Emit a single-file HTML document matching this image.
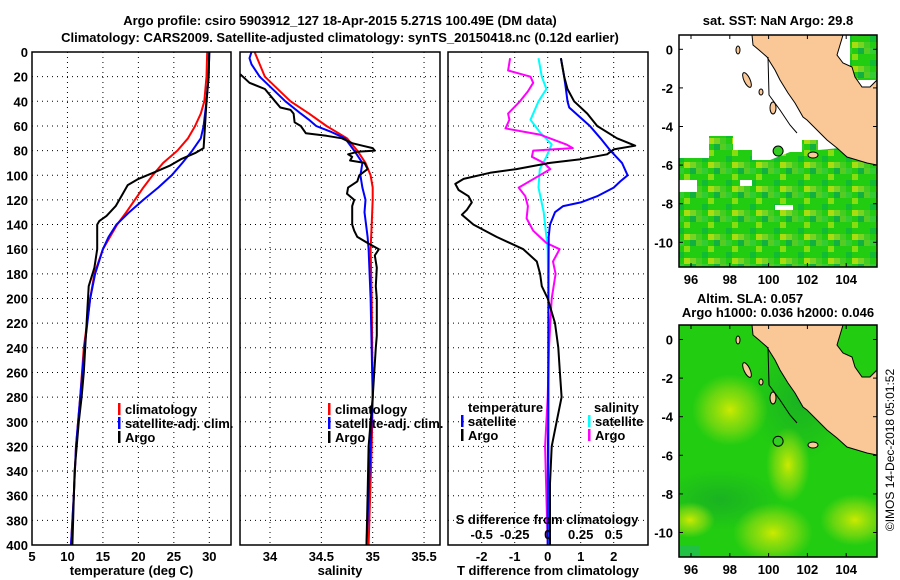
<!DOCTYPE html>
<html><head><meta charset="utf-8"><style>
html,body{margin:0;padding:0;background:#fff;}
svg{display:block;font-family:"Liberation Sans",Arial,sans-serif;font-weight:bold;}
</style></head><body>
<svg id="c" width="900" height="580" viewBox="0 0 900 580" xmlns="http://www.w3.org/2000/svg">
<defs>
<pattern id="sst" width="24" height="24" patternUnits="userSpaceOnUse">
<rect width="24" height="24" fill="#22cc11"/>
<rect x="0" y="0" width="6" height="6" fill="#55cc22"/><rect x="12" y="6" width="6" height="6" fill="#88dd11"/>
<rect x="6" y="12" width="6" height="6" fill="#11bb33"/><rect x="18" y="18" width="6" height="6" fill="#77d522"/>
<rect x="18" y="0" width="6" height="6" fill="#11b040"/><rect x="0" y="18" width="6" height="6" fill="#44cc22"/>
<rect x="12" y="18" width="6" height="6" fill="#aadd11"/><rect x="6" y="0" width="6" height="6" fill="#33cc33"/>
</pattern>
<radialGradient id="yb"><stop offset="0" stop-color="#ccea00"/><stop offset="0.6" stop-color="#99dd10" stop-opacity="0.6"/><stop offset="1" stop-color="#88dd10" stop-opacity="0"/></radialGradient>
<radialGradient id="db"><stop offset="0" stop-color="#119933" stop-opacity="0.5"/><stop offset="1" stop-color="#119933" stop-opacity="0"/></radialGradient>
<clipPath id="m1c"><rect x="679" y="35" width="198" height="232"/></clipPath>
<clipPath id="m2c"><rect x="679" y="325" width="198" height="232"/></clipPath>
</defs>
<g id="root"></g>
</svg>
<script>
// ---- data: depth (m) and values ----
const tClimDepth=[0,20,40,50,60,70,80,90,100,110,120,130,140,160,180,200,240,280,320,360,400];
const tClimVal=[29.7,29.6,29.3,28.8,28.0,27.0,25.5,23.5,22.0,20.7,19.5,18.3,17.0,15.0,13.8,13.2,12.3,11.8,11.2,10.9,10.5];
const tSatDepth=[0,20,40,60,70,80,90,100,110,120,130,140,150,160,180,200,240,280,320,360,400];
const tSatVal=[30.0,29.9,29.6,29.2,28.8,27.6,26.2,24.7,22.8,20.7,18.7,16.9,15.8,15.0,13.9,13.2,12.4,11.8,11.2,10.9,10.5];
const tArgoDepth=[0,20,40,60,78,82,87,92,97,103,108,115,125,133,137,140,160,175,190,220,260,280,300,340,400];
const tArgoVal=[30.0,29.9,29.6,29.4,29.2,28.0,26.0,24.5,22.5,20.0,18.5,17.8,16.8,15.5,14.5,14.2,14.2,13.8,13.0,12.7,12.3,12.0,11.6,11.0,10.7];
const sClimDepth=[0,10,20,40,50,60,70,80,90,100,110,120,140,160,200,280,320,400];
const sClimVal=[33.85,33.9,33.95,34.2,34.38,34.55,34.75,34.85,34.93,34.98,35.0,35.0,34.99,34.98,34.99,35.0,34.99,34.96];
const sSatDepth=[0,5,10,20,40,50,55,60,65,70,80,90,100,110,120,130,150,160,200,280,400];
const sSatVal=[33.82,33.8,33.82,33.9,34.15,34.3,34.38,34.45,34.6,34.73,34.82,34.9,34.88,34.9,34.93,34.92,34.95,34.96,34.98,35.0,34.94];
const sArgoDepth=[18,25,30,40,45,47,50,57,60,66,68,70,74,76,78,80,81,83,85,88,90,95,100,105,110,115,120,125,130,140,145,150,155,160,165,175,190,200,230,240,280,320,360,400];
const sArgoVal=[33.71,33.8,33.95,34.05,34.1,34.2,34.23,34.24,34.3,34.35,34.55,34.7,34.8,34.9,35.0,35.02,34.85,34.76,34.8,34.78,34.92,34.95,34.87,34.85,34.76,34.75,34.82,34.8,34.8,34.8,34.82,34.85,34.95,35.06,35.02,35.04,35.03,35.04,35.04,35.03,35.0,34.96,34.95,34.94];
const dTSatDepth=[5,20,30,40,45,60,70,80,90,100,105,110,117,122,125,130,140,150,200,400];
const dTSatVal=[0.4,0.5,0.55,0.6,0.65,1.28,1.6,1.9,2.25,2.42,2.2,2.0,1.5,1.0,0.47,0.22,0.07,0.03,0.02,0.0];
const dTArgoDepth=[5,20,30,40,50,60,70,76,79,83,87,90,95,98,103,107,112,117,122,128,132,140,150,160,170,180,190,200,220,240,260,280,300,320,350,400];
const dTArgoVal=[0.4,0.5,0.6,0.8,1.2,1.5,2.1,2.65,2.0,1.8,1.0,0.07,-0.95,-1.75,-2.55,-2.8,-2.7,-2.4,-2.3,-2.45,-2.6,-2.25,-1.55,-0.74,-0.33,-0.23,-0.18,0,0.22,0.32,0.37,0.42,0.27,0.12,0.07,0.07];
const dSSatDepth=[5,20,30,40,55,65,75,85,95,110,130,150,160,200,280,400];
const dSSatVal=[-0.07,-0.045,-0.01,-0.07,-0.13,-0.06,0.03,-0.01,-0.06,-0.07,-0.03,-0.01,0.0,0.005,0.01,0.01];
const dSArgoDepth=[5,15,20,25,32,40,50,55,62,67,75,78,80,85,90,95,100,110,117,125,135,145,150,155,160,170,180,200,220,240,280,300,320,360,400];
const dSArgoVal=[-0.285,-0.3,-0.13,-0.11,-0.15,-0.21,-0.3,-0.29,-0.32,-0.06,0.14,0.19,-0.11,-0.12,-0.03,0.02,-0.06,-0.22,-0.17,-0.15,-0.16,-0.11,-0.06,-0.01,0.09,0.04,0.06,0.03,0.02,0.01,0.0,-0.01,-0.02,-0.01,0.0];
const depthTicks=[0,20,40,60,80,100,120,140,160,180,200,220,240,260,280,300,320,340,360,380,400];
const tTicks=[5,10,15,20,25,30];
const sTicks=[34,34.5,35,35.5];
const dTTicks=[-2,-1,0,1,2];
const dSTicks=[-0.5,-0.25,0,0.25,0.5];
const dSTickLabels=["-0.5","-0.25","0","0.25","0.5"];
const lonTicks=[96,98,100,102,104];
const latTicks=[0,-2,-4,-6,-8,-10];
const argoLon=100.49, argoLat=-5.271;

const NS='http://www.w3.org/2000/svg';
const root=document.getElementById('root');
function el(tag,attrs,parent,text){const e=document.createElementNS(NS,tag);for(const k in attrs)e.setAttribute(k,attrs[k]);if(text!==undefined)e.textContent=text;(parent||root).appendChild(e);return e;}

const Y0=52,Y1=545;
const yD=d=>Y0+(Y1-Y0)*d/400;
const xT=v=>32+(v-5)*(209.3-32)/25;
const xS=v=>270+(v-34)*102.7;
const xDT=v=>547.7+v*33;
const xDS=v=>547.7+v*132;

let t=el('text',{x:340,y:25,'text-anchor':'middle','font-size':13});t.textContent='Argo profile: csiro 5903912_127 18-Apr-2015 5.271S 100.49E (DM data)';


t=el('text',{x:340,y:42,'text-anchor':'middle','font-size':13});t.textContent='Climatology: CARS2009. Satellite-adjusted climatology: synTS_20150418.nc (0.12d earlier)';



function panel(name,x0,x1,xs,xticks,xlabels,xtitle,showY){
  const g=el('g',{});
  
  
  for(const d of depthTicks){
    el('line',{x1:x0,x2:x1,y1:yD(d),y2:yD(d),stroke:'#000','stroke-width':1,'stroke-dasharray':'1,4'},g);
  }
  xticks.forEach((v,i)=>{
    const x=xs(v);
    el('line',{x1:x,x2:x,y1:Y0,y2:Y1,stroke:'#000','stroke-width':1,'stroke-dasharray':'1,4'},g);
    if(xlabels){const l=el('text',{x:x,y:561,'text-anchor':'middle','font-size':13},g,xlabels[i]);
    
    }
  });
  if(showY){for(const d of depthTicks){const l=el('text',{x:28,y:yD(d)+5,'text-anchor':'end','font-size':13},g,String(d));
    
    }}
  const tt=el('text',{x:(x0+x1)/2,y:575,'text-anchor':'middle','font-size':13},g,xtitle);
  
  
  return g;
}
function frame(x0,x1){const r=el('rect',{x:x0,y:Y0,width:x1-x0,height:Y1-Y0,fill:'none',stroke:'#000','stroke-width':1.5});
  
  }
function line(depths,vals,xs,color,name,g){
  const pts=depths.map((d,i)=>xs(vals[i]).toFixed(1)+','+yD(d).toFixed(1)).join(' ');
  const p=el('polyline',{points:pts,fill:'none',stroke:color,'stroke-width':2,'stroke-linejoin':'round'},g);
  
  
}
function legend(x,y,color,label,g){
  el('rect',{x:x,y:y-6,width:2.5,height:12,fill:color},g);
  const l=el('text',{x:x+7,y:y+5,'font-size':13},g,label);
  
  
}

let g=panel('temperature-panel',32,231,xT,tTicks,tTicks.map(String),'temperature (deg C)',true);
line(tClimDepth,tClimVal,xT,'#ff0000','climatology-temperature-line',g);
line(tSatDepth,tSatVal,xT,'#0000ff','satellite-temperature-line',g);
line(tArgoDepth,tArgoVal,xT,'#000000','argo-temperature-line',g);
legend(118,409,'#ff0000','climatology',g);legend(118,423,'#0000ff','satellite-adj. clim.',g);legend(118,437,'#000','Argo',g);
frame(32,231);

g=panel('salinity-panel',240,440,xS,sTicks,sTicks.map(String),'salinity',false);
line(sClimDepth,sClimVal,xS,'#ff0000','climatology-salinity-line',g);
line(sSatDepth,sSatVal,xS,'#0000ff','satellite-salinity-line',g);
line(sArgoDepth,sArgoVal,xS,'#000000','argo-salinity-line',g);
legend(328,409,'#ff0000','climatology',g);legend(328,423,'#0000ff','satellite-adj. clim.',g);legend(328,437,'#000','Argo',g);
frame(240,440);

g=panel('difference-panel',448,648,xDT,dTTicks,dTTicks.map(String),'T difference from climatology',false);
line(dSSatDepth,dSSatVal,xDS,'#00ffff','satellite-salinity-diff-line',g);
line(dSArgoDepth,dSArgoVal,xDS,'#ff00ff','argo-salinity-diff-line',g);
line(dTSatDepth,dTSatVal,xDT,'#0000ff','satellite-temperature-diff-line',g);
line(dTArgoDepth,dTArgoVal,xDT,'#000000','argo-temperature-diff-line',g);
t=el('text',{x:468,y:412,'font-size':13},g,'temperature');


t=el('text',{x:594,y:412,'font-size':13},g,'salinity');


legend(461,421,'#0000ff','satellite',g);legend(461,435,'#000','Argo',g);
legend(588,421,'#00ffff','satellite',g);legend(588,435,'#ff00ff','Argo',g);
t=el('text',{x:547,y:524,'text-anchor':'middle','font-size':13},g,'S difference from climatology');


dSTicks.forEach((v,i)=>{const l=el('text',{x:xDS(v),y:539,'text-anchor':'middle','font-size':13},g,dSTickLabels[i]);
  
  });
frame(448,648);

const MX0=679,MX1=877;
const xLon=v=>691+(v-96)*19.4;
function mapAxes(top,bottom,lat0,g,labelY){
  latTicks.forEach(la=>{const y=lat0+(-la)*19.3;
    el('line',{x1:MX0,x2:MX0+4,y1:y,y2:y,stroke:'#000'},g);el('line',{x1:MX1-4,x2:MX1,y1:y,y2:y,stroke:'#000'},g);
    const l=el('text',{x:673,y:y+5,'text-anchor':'end','font-size':13},g,String(la));
    
    });
  lonTicks.forEach(lo=>{const x=xLon(lo);
    el('line',{x1:x,x2:x,y1:top,y2:top+4,stroke:'#000'},g);el('line',{x1:x,x2:x,y1:bottom-4,y2:bottom,stroke:'#000'},g);
    const l=el('text',{x:x,y:labelY,'text-anchor':'middle','font-size':13},g,String(lo));
    
    });
  el('rect',{x:MX0,y:top,width:MX1-MX0,height:bottom-top,fill:'none',stroke:'#000','stroke-width':1.5},g);
}
const landRel=[[752,35],[753,45],[759,50],[767,57],[770,62],[775,70],[780,80],[788,93],[795,103],[803,117],[807,120],[817,130],[827,140],[837,148],[847,157],[857,160],[867,163],[877,165],[877,80],[870,87],[862,87],[855,77],[852,67],[843,63],[837,55],[840,45],[843,35]];
function landPts(dy){return landRel.map(p=>p[0]+','+(p[1]+dy)).join(' ');}
function coastExtras(dy,g){
  el('polyline',{points:`768,${57+dy} 769,${95+dy} 780,${110+dy} 790,${125+dy} 797,${133+dy}`,fill:'none',stroke:'#000','stroke-width':1},g);
  el('ellipse',{cx:747,cy:80+dy,rx:3,ry:8,fill:'#f9c896',stroke:'#000',transform:`rotate(-25 747 ${80+dy})`},g);
  el('ellipse',{cx:773,cy:108+dy,rx:3,ry:6,fill:'#f9c896',stroke:'#000'},g);
  el('ellipse',{cx:761,cy:92+dy,rx:2,ry:3,fill:'#f9c896',stroke:'#000'},g);
  el('ellipse',{cx:813,cy:155+dy,rx:5,ry:3,fill:'#f9c896',stroke:'#000'},g);
  el('ellipse',{cx:738,cy:50+dy,rx:2,ry:4,fill:'#f9c896',stroke:'#000'},g);
}

let m=el('g',{'clip-path':'url(#m1c)'});


el('rect',{x:679,y:35,width:198,height:232,fill:'#fff'},m);
el('polygon',{points:'679,158 709,158 709,136 733,136 733,150 752,150 752,160 770,160 790,152 802,152 802,140 818,140 818,150 840,148 877,165 877,267 679,267',fill:'url(#sst)'},m);
el('rect',{x:850,y:35,width:27,height:45,fill:'url(#sst)'},m);
el('rect',{x:679,y:180,width:18,height:12,fill:'#fff'},m);el('rect',{x:740,y:180,width:12,height:6,fill:'#fff'},m);
el('rect',{x:775,y:205,width:18,height:5,fill:'#fff'},m);
el('polygon',{points:landPts(0),fill:'#f9c896',stroke:'#000','stroke-width':1},m);
coastExtras(0,m);
let dot=el('circle',{cx:xLon(argoLon),cy:49.3-argoLat*19.3,r:5,fill:'#33cc22',stroke:'#000','stroke-width':1},m);


g=el('g',{});mapAxes(35,267,49.3,g,284);
t=el('text',{x:778,y:25,'text-anchor':'middle','font-size':13},null,'sat. SST: NaN Argo: 29.8');



const DY=290;
m=el('g',{'clip-path':'url(#m2c)'});


el('rect',{x:679,y:325,width:198,height:232,fill:'#22cc11'},m);
el('ellipse',{cx:720,cy:500,rx:60,ry:30,fill:'url(#db)'},m);
el('ellipse',{cx:800,cy:400,rx:50,ry:60,fill:'url(#db)'},m);
el('ellipse',{cx:730,cy:410,rx:38,ry:36,fill:'url(#yb)'},m);
el('ellipse',{cx:788,cy:465,rx:22,ry:38,fill:'url(#yb)'},m);
el('ellipse',{cx:773,cy:533,rx:40,ry:30,fill:'url(#yb)'},m);
el('ellipse',{cx:855,cy:520,rx:35,ry:26,fill:'url(#yb)'},m);
el('ellipse',{cx:690,cy:520,rx:25,ry:18,fill:'url(#yb)'},m);
el('rect',{x:679,y:545,width:20,height:12,fill:'#22bb66',opacity:0.6},m);
el('polygon',{points:landPts(DY),fill:'#f9c896',stroke:'#000','stroke-width':1},m);
coastExtras(DY,m);
dot=el('circle',{cx:xLon(argoLon),cy:339.5-argoLat*19.3,r:5,fill:'#33cc22',stroke:'#000','stroke-width':1},m);


g=el('g',{});mapAxes(325,557,339.5,g,574);
t=el('text',{x:750,y:303,'text-anchor':'middle','font-size':13},null,'Altim. SLA: 0.057');


t=el('text',{x:778,y:317,'text-anchor':'middle','font-size':13},null,'Argo h1000: 0.036 h2000: 0.046');


t=el('text',{x:0,y:0,'text-anchor':'middle','font-size':12,'font-weight':'normal',transform:'translate(894,450) rotate(-90)'},null,'©IMOS 14-Dec-2018 05:01:52');


</script>
</body></html>
